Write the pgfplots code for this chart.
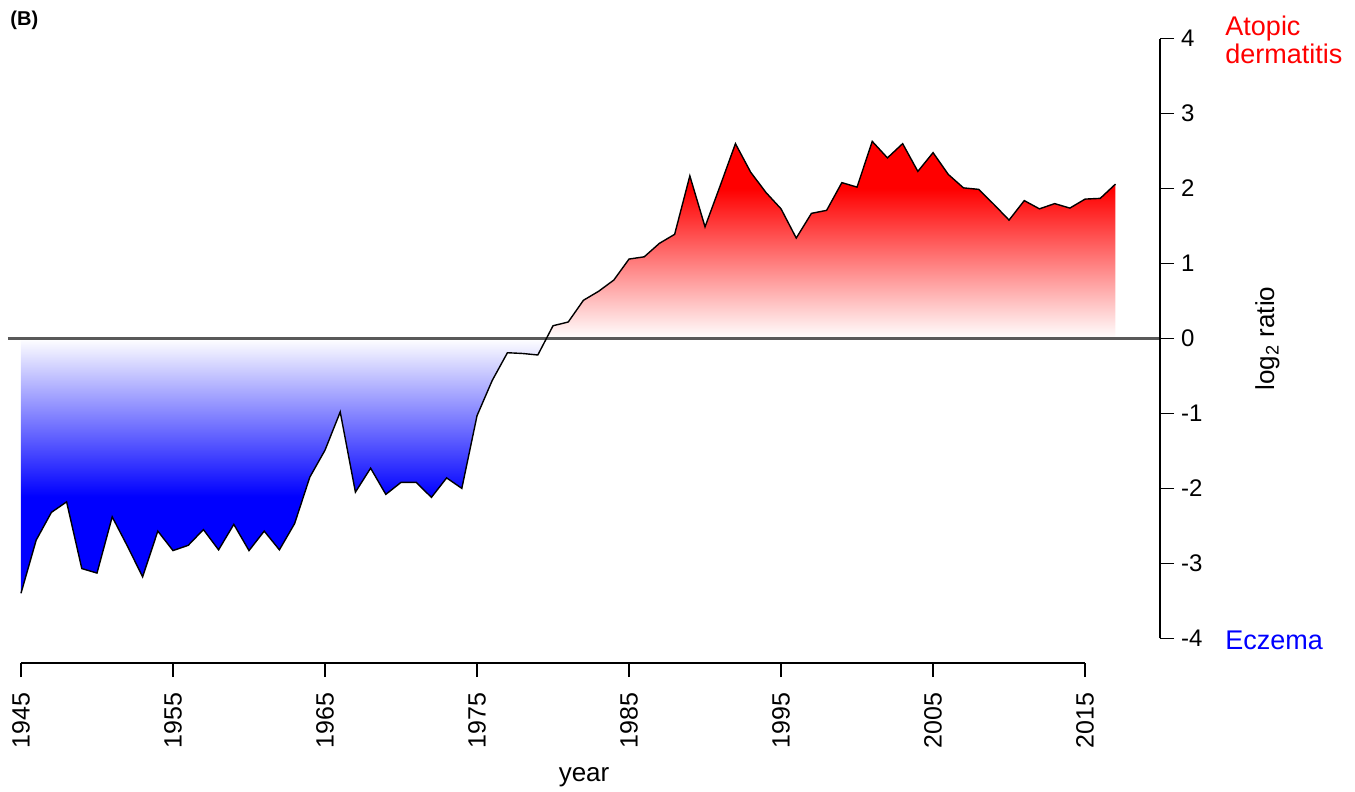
\documentclass[border=0pt]{standalone}
\usepackage{pgfplots}
\pgfplotsset{compat=1.18}
\usepackage{fontspec}
\setmainfont{Liberation Sans}
\pgfdeclareverticalshading{redfade}{100bp}{color(0bp)=(white); color(25bp)=(white); color(63bp)=(red); color(100bp)=(red)}
\pgfdeclareverticalshading{bluefade}{100bp}{color(0bp)=(blue); color(44bp)=(blue); color(75bp)=(white); color(100bp)=(white)}
\begin{document}
\begin{tikzpicture}
\useasboundingbox (-4pt,-64.5pt) rectangle (673.5pt,331.5pt);
\begin{axis}[
  at={(0,0)}, anchor=south west,
  scale only axis, width=576pt, height=324.5pt,
  xmin=1944.145, xmax=2019.93, ymin=-4.33, ymax=4.33,
  axis x line*=bottom, axis y line*=right,
  axis line style={draw=none},
  xtick={1945,1955,1965,1975,1985,1995,2005,2015},
  xticklabels={1945,1955,1965,1975,1985,1995,2005,2015},
  ytick={-4,-3,-2,-1,0,1,2,3,4},
  yticklabels={-4,-3,-2,-1,0,1,2,3,4},
  tick align=outside,
  major tick length=7pt,
  tick style={black, line width=0.6pt},
  xticklabel shift=4.5pt,
  xticklabel style={rotate=90, anchor=east, font=\fontsize{12.5}{14}\selectfont},
  yticklabel style={anchor=west, font=\fontsize{12}{14}\selectfont},
  clip=false,
]
% blue (Eczema) area
\addplot[draw=none, shading=bluefade] coordinates {
(1945,0) (1945,-3.40) (1946,-2.69) (1947,-2.32) (1948,-2.18) (1949,-3.07) (1950,-3.13)
(1951,-2.38) (1952,-2.77) (1953,-3.18) (1954,-2.57) (1955,-2.83) (1956,-2.76) (1957,-2.55)
(1958,-2.82) (1959,-2.48) (1960,-2.83) (1961,-2.57) (1962,-2.82) (1963,-2.47) (1964,-1.85)
(1965,-1.49) (1966,-0.98) (1967,-2.05) (1968,-1.73) (1969,-2.08) (1970,-1.92) (1971,-1.92)
(1972,-2.12) (1973,-1.86) (1974,-2.00) (1975,-1.03) (1976,-0.56) (1977,-0.19) (1978,-0.20)
(1979,-0.22) (1979.59,0)
} \closedcycle;
% red (Atopic dermatitis) area
\addplot[draw=none, shading=redfade] coordinates {
(1979.59,0) (1980,0.17) (1981,0.22) (1982,0.51) (1983,0.63) (1984,0.78) (1985,1.06)
(1986,1.09) (1987,1.27) (1988,1.39) (1989,2.17) (1990,1.49) (1991,2.04) (1992,2.60)
(1993,2.22) (1994,1.95) (1995,1.73) (1996,1.34) (1997,1.67) (1998,1.71) (1999,2.08)
(2000,2.02) (2001,2.63) (2002,2.41) (2003,2.60) (2004,2.23) (2005,2.48) (2006,2.19)
(2007,2.01) (2008,1.99) (2009,1.79) (2010,1.58) (2011,1.84) (2012,1.73) (2013,1.80)
(2014,1.74) (2015,1.86) (2016,1.87) (2017,2.06) (2017,0)
} \closedcycle;
% zero line
\draw[black!65, line width=1.1pt] (axis cs:1944.145,0) -- (axis cs:2019.93,0);
% data line
\addplot[black, line width=0.7pt, mark=none] coordinates {
(1945,-3.40) (1946,-2.69) (1947,-2.32) (1948,-2.18) (1949,-3.07) (1950,-3.13)
(1951,-2.38) (1952,-2.77) (1953,-3.18) (1954,-2.57) (1955,-2.83) (1956,-2.76) (1957,-2.55)
(1958,-2.82) (1959,-2.48) (1960,-2.83) (1961,-2.57) (1962,-2.82) (1963,-2.47) (1964,-1.85)
(1965,-1.49) (1966,-0.98) (1967,-2.05) (1968,-1.73) (1969,-2.08) (1970,-1.92) (1971,-1.92)
(1972,-2.12) (1973,-1.86) (1974,-2.00) (1975,-1.03) (1976,-0.56) (1977,-0.19) (1978,-0.20)
(1979,-0.22) (1980,0.17) (1981,0.22) (1982,0.51) (1983,0.63) (1984,0.78) (1985,1.06)
(1986,1.09) (1987,1.27) (1988,1.39) (1989,2.17) (1990,1.49) (1991,2.04) (1992,2.60)
(1993,2.22) (1994,1.95) (1995,1.73) (1996,1.34) (1997,1.67) (1998,1.71) (1999,2.08)
(2000,2.02) (2001,2.63) (2002,2.41) (2003,2.60) (2004,2.23) (2005,2.48) (2006,2.19)
(2007,2.01) (2008,1.99) (2009,1.79) (2010,1.58) (2011,1.84) (2012,1.73) (2013,1.80)
(2014,1.74) (2015,1.86) (2016,1.87) (2017,2.06)
};
% R-style axis lines
\draw[black, line width=0.7pt] (axis cs:1945,-4.33) -- (axis cs:2015,-4.33);
\draw[black, line width=0.7pt] (axis cs:2019.93,-4) -- (axis cs:2019.93,4);
% labels
\node[font=\fontsize{13}{15}\selectfont] at (axis cs:1982.04,-5.85) {year};
\node[rotate=90, font=\fontsize{13}{15}\selectfont] at (axis cs:2027.0,0) {log\textsubscript{2} ratio};
\node[anchor=north west, align=left, text=red, inner sep=0pt, font=\fontsize{13.5}{14}\selectfont] at (axis cs:2024.21,4.31) {Atopic\\dermatitis};
\node[anchor=west, text=blue, inner sep=0pt, font=\fontsize{13.5}{15}\selectfont] at (axis cs:2024.21,-4.03) {Eczema};
\node[anchor=west, inner sep=0pt, font=\bfseries\fontsize{10}{12}\selectfont] at (axis cs:1944.28,4.25) {(B)};
\end{axis}
\end{tikzpicture}
\end{document}
